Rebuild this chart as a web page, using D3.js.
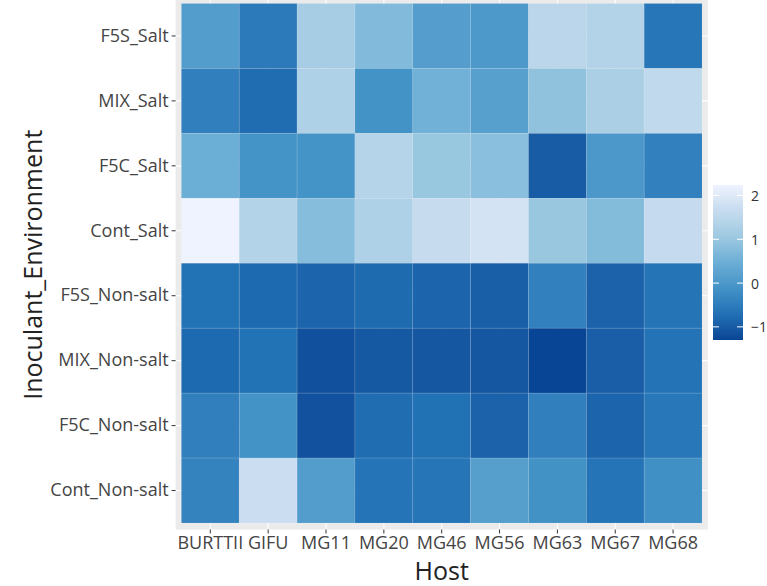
<!DOCTYPE html>
<html>
<head>
<meta charset="utf-8">
<script src="https://cdn.jsdelivr.net/npm/d3@7"></script>
<style>
  body { margin: 0; background: #fff; }
  text { font-family: "Open Sans", sans-serif; }
</style>
</head>
<body>
<svg id="chart" width="767" height="586"></svg>
<script>
// Hosts along the x axis, inoculant/environment combinations down the y axis
const hosts = ["BURTTII", "GIFU", "MG11", "MG20", "MG46", "MG56", "MG63", "MG67", "MG68"];
const inoculants = ["F5S_Salt", "MIX_Salt", "F5C_Salt", "Cont_Salt",
                    "F5S_Non-salt", "MIX_Non-salt", "F5C_Non-salt", "Cont_Non-salt"];

// Scaled response per host, one array per inoculant/environment row
const f5sSalt       = [ 0.11, -0.55,  1.17,  0.73,  0.12,  0.02,  1.48,  1.37, -0.62];
const mixSalt       = [-0.46, -0.76,  1.30, -0.09,  0.53,  0.17,  0.89,  1.25,  1.57];
const f5cSalt       = [ 0.47, -0.08, -0.08,  1.39,  0.99,  0.82, -0.99,  0.01, -0.44];
const contSalt      = [ 2.24,  1.37,  0.77,  1.31,  1.66,  1.84,  1.00,  0.74,  1.63];
const f5sNonSalt    = [-0.69, -0.80, -0.87, -0.79, -0.88, -0.95, -0.44, -0.91, -0.66];
const mixNonSalt    = [-0.80, -0.69, -1.15, -1.03, -1.05, -1.06, -1.30, -0.96, -0.67];
const f5cNonSalt    = [-0.46, -0.09, -1.14, -0.76, -0.71, -0.91, -0.45, -0.88, -0.60];
const contNonSalt   = [-0.39,  1.72,  0.11, -0.65, -0.64,  0.15, -0.12, -0.65, -0.17];

const legendTicks = [-1, 0, 1, 2];

// Reversed 7-class Brewer "Blues": low values dark, high values light
const blues = ["#084594", "#2171B5", "#4292C6", "#6BAED6", "#9ECAE1", "#C6DBEF", "#EFF3FF"];

const rows = [f5sSalt, mixSalt, f5cSalt, contSalt, f5sNonSalt, mixNonSalt, f5cNonSalt, contNonSalt];
const cells = [];
rows.forEach((r, i) => r.forEach((v, j) => cells.push({ row: inoculants[i], host: hosts[j], value: v })));

const svg = d3.select("#chart");

const panel = { left: 175.6, right: 707.8, top: -3, bottom: 529.5 };

const x = d3.scaleBand().domain(hosts).range([panel.left, panel.right])
  .paddingInner(0).paddingOuter(0.1);
const y = d3.scaleBand().domain(inoculants).range([panel.top, panel.bottom])
  .paddingInner(0).paddingOuter(0.1);

const [vmin, vmax] = d3.extent(cells, d => d.value);
const color = d3.scaleLinear()
  .domain(blues.map((_, i) => vmin + (vmax - vmin) * i / (blues.length - 1)))
  .range(blues)
  .interpolate(d3.interpolateLab);

// Panel background and grid
svg.append("rect")
  .attr("x", panel.left).attr("y", panel.top)
  .attr("width", panel.right - panel.left).attr("height", panel.bottom - panel.top)
  .attr("fill", "#EBEBEB");

svg.append("g").selectAll("line").data(hosts).join("line")
  .attr("x1", d => x(d) + x.bandwidth() / 2).attr("x2", d => x(d) + x.bandwidth() / 2)
  .attr("y1", panel.top).attr("y2", panel.bottom)
  .attr("stroke", "#fff").attr("stroke-width", 1.1);
svg.append("g").selectAll("line").data(inoculants).join("line")
  .attr("y1", d => y(d) + y.bandwidth() / 2).attr("y2", d => y(d) + y.bandwidth() / 2)
  .attr("x1", panel.left).attr("x2", panel.right)
  .attr("stroke", "#fff").attr("stroke-width", 1.1);

// Tiles
svg.append("g").selectAll("rect").data(cells).join("rect")
  .attr("x", d => x(d.host)).attr("y", d => y(d.row))
  .attr("width", x.bandwidth()).attr("height", y.bandwidth())
  .attr("fill", d => color(d.value))
  .attr("stroke", "rgba(255,255,255,0.15)").attr("stroke-width", 0.7);

// Axes
const xAxis = svg.append("g")
  .attr("transform", `translate(0,${panel.bottom})`)
  .call(d3.axisBottom(x).tickSize(4).tickPadding(3));
const yAxis = svg.append("g")
  .attr("transform", `translate(${panel.left},0)`)
  .call(d3.axisLeft(y).tickSize(4).tickPadding(3));

[xAxis, yAxis].forEach(g => {
  g.select(".domain").remove();
  g.selectAll(".tick line").attr("stroke", "#333").attr("stroke-width", 1);
  g.selectAll(".tick text").attr("fill", "#444").style("font-size", "18px");
});

// Axis titles
svg.append("text")
  .attr("x", (panel.left + panel.right) / 2).attr("y", 580)
  .attr("text-anchor", "middle").attr("fill", "#222")
  .style("font-size", "25px").text("Host");
svg.append("text")
  .attr("transform", `translate(32,${(Math.max(panel.top, 0) + panel.bottom) / 2}) rotate(-90)`)
  .attr("text-anchor", "middle").attr("dominant-baseline", "central").attr("fill", "#222")
  .style("font-size", "25px").text("Inoculant_Environment");

// Colour bar legend
const bar = { x: 713, width: 30, top: 185, bottom: 340 };
const lg = svg.append("defs").append("linearGradient")
  .attr("id", "barGrad").attr("x1", 0).attr("y1", 1).attr("x2", 0).attr("y2", 0);
d3.range(0, 1.0001, 0.05).forEach(t => {
  lg.append("stop").attr("offset", t).attr("stop-color", color(vmin + t * (vmax - vmin)));
});
svg.append("rect")
  .attr("x", bar.x).attr("y", bar.top)
  .attr("width", bar.width).attr("height", bar.bottom - bar.top)
  .attr("fill", "url(#barGrad)");

const ly = d3.scaleLinear().domain([vmin, vmax]).range([bar.bottom, bar.top]);
const lt = svg.append("g");
legendTicks.forEach(t => {
  lt.append("line").attr("x1", bar.x).attr("x2", bar.x + 6)
    .attr("y1", ly(t)).attr("y2", ly(t)).attr("stroke", "#fff").attr("stroke-width", 1);
  lt.append("line").attr("x1", bar.x + bar.width - 6).attr("x2", bar.x + bar.width)
    .attr("y1", ly(t)).attr("y2", ly(t)).attr("stroke", "#fff").attr("stroke-width", 1);
  lt.append("text").attr("x", bar.x + bar.width + 8).attr("y", ly(t))
    .attr("dominant-baseline", "central").attr("fill", "#333")
    .style("font-size", "14px").text(d3.format("")(t).replace("-", "\u2212"));
});
</script>
</body>
</html>
